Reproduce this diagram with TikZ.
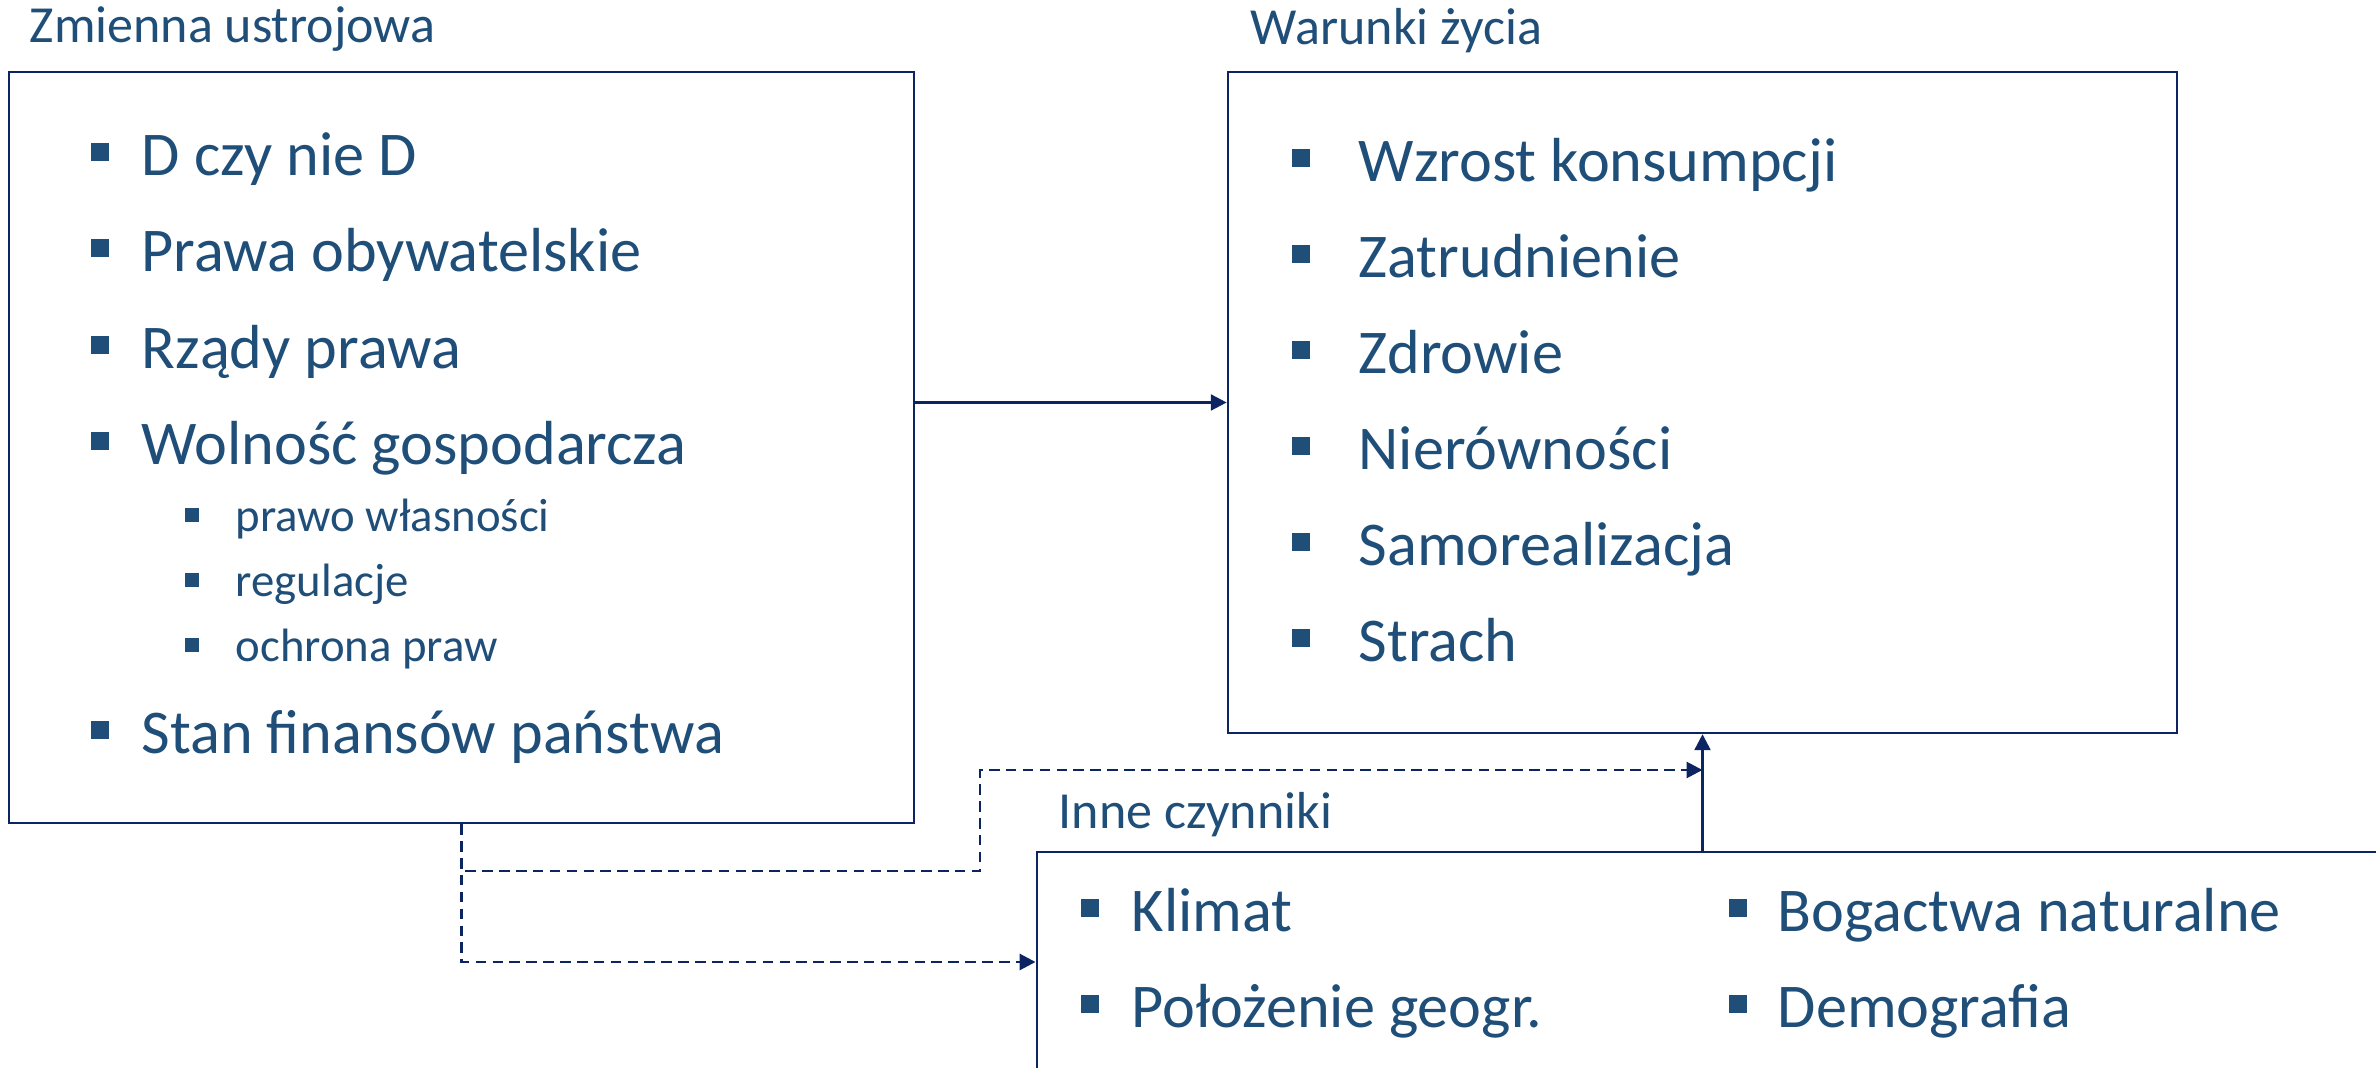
\documentclass[tikz,border=0pt]{standalone}
\usepackage{fontspec}
\setmainfont{Carlito}
\usepackage{xcolor}
\usetikzlibrary{arrows.meta,calc}
\definecolor{navy}{HTML}{0C2461}
\definecolor{txt}{HTML}{1F4E79}
\definecolor{bul}{HTML}{1F4E79}
\tikzset{
  frame/.style={draw=navy, line width=0.6pt, inner sep=0pt},
  big/.style={anchor=base west, inner sep=0pt, text=txt, font=\fontsize{17.7}{21}\selectfont},
  small/.style={anchor=base west, inner sep=0pt, text=txt, font=\fontsize{13.3}{16}\selectfont},
  head/.style={anchor=base west, inner sep=0pt, text=txt, font=\fontsize{14.8}{17}\selectfont},
  arr/.style={-{Triangle[length=4.5pt,width=4.5pt]}, line width=0.7pt, draw=navy},
  darr/.style={arr, line width=0.8pt, dash pattern=on 3pt off 1.8pt}
}
\newcommand{\BigItem}[5]{% name, square x, text x, baseline, text
  \node[big] (#1) at (#3,#4) {#5};
  \fill[bul] (#2,#4-33) rectangle +(18,18);
}
\newcommand{\SubItem}[5]{% name, square x, text x, baseline, text
  \node[small] (#1) at (#3,#4) {#5};
  \fill[bul] (#2,#4-24) rectangle +(14,14);
}

\begin{document}
\begin{tikzpicture}[x=0.01cm, y=-0.01cm]
  \useasboundingbox (0,0) rectangle (2376,1068);
  \clip (0,0) rectangle (2376,1068);
  % boxes (pixel units, y down)
  \node[frame, minimum width=9.05cm, minimum height=7.51cm] (ustroj) at (461.5,447.5) {};
  \node[frame, minimum width=9.49cm, minimum height=6.61cm] (warunki) at (1702.5,402.5) {};
  \node[frame, minimum width=13.83cm, minimum height=2.2cm] (inne) at (1728.5,962) {};
  \node[head] (tu) at (29,43) {Zmienna ustrojowa};
  \node[head] (tw) at (1250,45) {Warunki życia};
  \node[head] (ti) at (1058,829) {Inne czynniki};
  % left list
  \BigItem{u1}{91}{141}{176}{D czy nie D}
  \BigItem{u2}{91}{141}{272}{Prawa obywatelskie}
  \BigItem{u3}{91}{141}{369}{Rządy prawa}
  \BigItem{u4}{91}{141}{465}{Wolność gospodarcza}
  \SubItem{s1}{185}{235}{532}{prawo własności}
  \SubItem{s2}{185}{235}{597}{regulacje}
  \SubItem{s3}{185}{235}{662}{ochrona praw}
  \BigItem{u5}{91}{141}{754}{Stan finansów państwa}
  % right list
  \BigItem{w1}{1292}{1358}{182}{Wzrost konsumpcji}
  \BigItem{w2}{1292}{1358}{278}{Zatrudnienie}
  \BigItem{w3}{1292}{1358}{374}{Zdrowie}
  \BigItem{w4}{1292}{1358}{470}{Nierówności}
  \BigItem{w5}{1292}{1358}{566}{Samorealizacja}
  \BigItem{w6}{1292}{1358}{662}{Strach}
  % bottom list
  \BigItem{i1}{1081}{1131}{932}{Klimat}
  \BigItem{i2}{1081}{1131}{1028}{Położenie geogr.}
  \BigItem{i3}{1729}{1777}{932}{Bogactwa naturalne}
  \BigItem{i4}{1729}{1777}{1028}{Demografia}
  % connectors
  \coordinate (bend) at (980,871);
  \coordinate (join) at (1702.5,770);
  \draw[arr] (ustroj.east |- warunki.west) -- (warunki.west);
  \draw[arr] (inne.north -| warunki.south) -- (warunki.south);
  \draw[darr] (ustroj.south) |- (bend) |- (join);
  \draw[darr] (ustroj.south) |- (inne.west);
\end{tikzpicture}
\end{document}
